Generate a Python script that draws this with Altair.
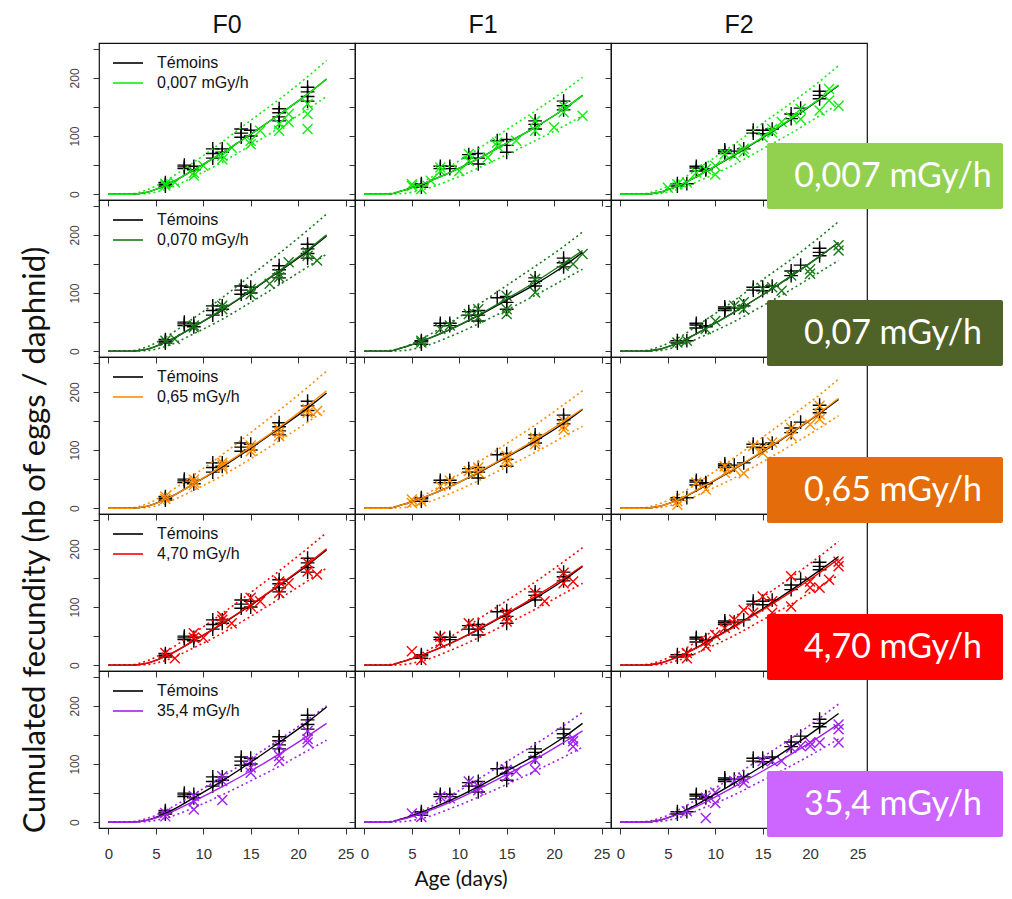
import altair as alt
import pandas as pd

# ---------------- data ----------------
GENERATIONS = ["F0", "F1", "F2"]
CURVE_X = [0, 2.5, 4, 6, 9, 12, 15, 18, 21, 23]
X_TICKS = [0, 5, 10, 15, 20, 25]
Y_TICKS = [0, 50, 100, 150, 200, 250]

DOSE_LEGEND = ["0,007 mGy/h", "0,070 mGy/h", "0,65 mGy/h", "4,70 mGy/h", "35,4 mGy/h"]
DOSE_BOX = ["0,007 mGy/h", "0,07 mGy/h", "0,65 mGy/h", "4,70 mGy/h", "35,4 mGy/h"]
DOSE_COLORS = ["#11EE11", "#1A7A1A", "#FF8C00", "#FF0000", "#A020F0"]
BOX_COLORS = ["#92D050", "#4F6228", "#E46C0A", "#FF0000", "#CC66FF"]

# control (Témoins) fitted curves, per generation
CTRL_FIT_F0 = [0, 0, 3, 15, 42, 71, 103, 137, 172, 198]
CTRL_FIT_F1 = [0, 0, 6, 17, 37, 61, 88, 115, 146, 170]
CTRL_FIT_F2 = [0, 0, 3, 14, 39, 67, 97, 129, 163, 187]

# control observations (+)
CTRL_DAY_F0 = [6, 6, 6, 8, 8, 8, 9, 9, 11, 11, 11, 12, 12, 14, 14, 14, 15, 15, 18, 18, 18, 18, 21, 21, 21, 21]
CTRL_VAL_F0 = [14, 17, 20, 44, 47, 50, 42, 48, 62, 70, 78, 72, 78, 98, 105, 112, 100, 110, 126, 133, 140, 147, 160, 168, 176, 184]
CTRL_DAY_F1 = [6, 6, 6, 8, 8, 9, 9, 11, 11, 12, 12, 12, 14, 15, 15, 15, 18, 18, 18, 21, 21, 21]
CTRL_VAL_F1 = [12, 16, 18, 44, 48, 44, 48, 62, 68, 52, 62, 70, 92, 72, 84, 94, 112, 120, 126, 145, 152, 160]
CTRL_DAY_F2 = [6, 6, 7, 8, 8, 8, 9, 9, 11, 11, 11, 12, 13, 14, 14, 15, 15, 16, 18, 18, 19, 21, 21, 21]
CTRL_VAL_F2 = [14, 18, 18, 40, 45, 48, 42, 44, 70, 73, 76, 74, 78, 105, 110, 104, 110, 112, 130, 138, 148, 164, 170, 177]

# treated fits (solid), lower / upper bounds (dotted): [F0, F1, F2]
FIT_0007 = [[0, 0, 3, 15, 42, 71, 103, 137, 172, 198], [0, 0, 6, 17, 37, 61, 88, 115, 146, 170], [0, 0, 3, 14, 39, 68, 98, 130, 164, 188]]
LO_0007 = [[0, 0, 1, 8, 30, 55, 84, 114, 146, 168], [0, 0, 1, 7, 24, 45, 68, 92, 117, 135], [0, 0, 1, 8, 28, 51, 78, 105, 135, 155]]
HI_0007 = [[0, 1, 7, 23, 55, 90, 127, 163, 202, 230], [0, 1, 6, 20, 48, 78, 111, 143, 177, 201], [0, 1, 7, 22, 53, 86, 122, 157, 194, 221]]

FIT_0070 = [[0, 0, 3, 15, 42, 72, 104, 138, 174, 200], [0, 0, 6, 17, 37, 62, 90, 119, 151, 173], [0, 0, 3, 14, 39, 67, 97, 129, 163, 187]]
LO_0070 = [[0, 0, 1, 8, 30, 55, 84, 114, 145, 167], [0, 0, 1, 7, 25, 47, 71, 96, 123, 141], [0, 0, 1, 8, 28, 51, 78, 106, 136, 156]]
HI_0070 = [[0, 1, 7, 24, 57, 92, 130, 168, 208, 236], [0, 1, 6, 21, 49, 80, 113, 146, 180, 205], [0, 1, 7, 22, 54, 87, 123, 158, 196, 223]]

FIT_065 = [[0, 0, 3, 15, 42, 73, 105, 139, 176, 202], [0, 0, 6, 17, 37, 62, 89, 118, 149, 171], [0, 0, 3, 14, 40, 68, 98, 130, 164, 189]]
LO_065 = [[0, 0, 1, 9, 31, 56, 85, 116, 148, 170], [0, 0, 1, 7, 25, 47, 71, 96, 123, 141], [0, 0, 1, 8, 29, 52, 80, 108, 138, 159]]
HI_065 = [[0, 1, 7, 24, 57, 92, 130, 168, 208, 236], [0, 1, 6, 20, 48, 79, 111, 143, 178, 202], [0, 1, 7, 22, 53, 87, 122, 158, 195, 222]]

FIT_470 = [[0, 0, 3, 15, 42, 72, 104, 138, 174, 200], [0, 0, 6, 17, 37, 62, 89, 118, 149, 171], [0, 0, 3, 14, 38, 66, 95, 126, 159, 183]]
LO_470 = [[0, 0, 1, 8, 30, 55, 84, 114, 145, 167], [0, 0, 1, 7, 25, 47, 71, 96, 123, 141], [0, 0, 1, 8, 28, 51, 78, 105, 135, 155]]
HI_470 = [[0, 1, 7, 23, 55, 89, 125, 162, 201, 228], [0, 1, 6, 20, 48, 79, 111, 143, 178, 202], [0, 1, 6, 21, 51, 83, 117, 151, 187, 213]]

FIT_354 = [[0, 0, 3, 13, 36, 61, 88, 117, 148, 170], [0, 0, 5, 15, 34, 57, 82, 108, 137, 157], [0, 0, 3, 13, 35, 61, 88, 117, 147, 169]]
LO_354 = [[0, 0, 1, 7, 25, 47, 71, 96, 123, 141], [0, 0, 1, 6, 23, 43, 65, 88, 112, 129], [0, 0, 1, 7, 26, 47, 72, 97, 124, 143]]
HI_354 = [[0, 1, 6, 20, 48, 78, 110, 142, 176, 200], [0, 1, 6, 19, 45, 74, 104, 134, 166, 189], [0, 1, 6, 20, 49, 79, 112, 144, 179, 203]]

# treated observations (x): [F0, F1, F2]
DAY_0007 = [[6, 6, 7, 9, 9, 10, 12, 12, 13, 15, 15, 16, 18, 18, 19, 19, 21, 21, 21],
            [5, 5, 6, 7, 8, 8, 10, 11, 11, 13, 14, 14, 16, 18, 18, 20, 21, 21, 23],
            [5, 6, 7, 8, 9, 10, 10, 11, 12, 13, 13, 15, 16, 16, 17, 18, 19, 19, 21, 22, 22, 23]]
VAL_0007 = [[15, 18, 20, 32, 37, 49, 60, 66, 80, 86, 92, 109, 109, 121, 124, 138, 112, 138, 155],
            [14, 17, 9, 23, 40, 46, 40, 57, 69, 63, 83, 89, 92, 109, 126, 115, 141, 152, 135],
            [11, 17, 20, 37, 43, 49, 34, 69, 66, 78, 72, 98, 112, 106, 124, 132, 147, 129, 144, 181, 161, 152]]

DAY_0070 = [[6, 7, 9, 9, 12, 12, 15, 15, 17, 18, 18, 19, 21, 21, 22],
            [6, 6, 8, 9, 11, 12, 12, 15, 15, 15, 18, 18, 21, 22, 23],
            [6, 7, 9, 10, 12, 13, 13, 15, 16, 17, 18, 20, 20, 23, 23]]
VAL_0070 = [[18, 21, 41, 44, 72, 78, 98, 107, 116, 127, 133, 153, 164, 170, 156],
            [18, 15, 38, 44, 64, 72, 58, 95, 72, 64, 124, 101, 147, 150, 167],
            [15, 18, 38, 52, 78, 84, 72, 107, 110, 104, 130, 141, 133, 182, 173]]

DAY_065 = [[6, 6, 9, 9, 9, 12, 12, 12, 15, 15, 15, 18, 18, 18, 21, 21, 22],
           [5, 5, 6, 8, 9, 11, 12, 12, 15, 15, 15, 18, 18, 18, 21, 21, 21],
           [6, 6, 8, 9, 11, 11, 12, 13, 14, 15, 15, 16, 18, 18, 20, 21, 21, 21]]
VAL_065 = [[16, 20, 40, 44, 49, 70, 74, 78, 98, 104, 108, 124, 130, 136, 164, 170, 167],
           [15, 9, 12, 38, 47, 64, 70, 62, 84, 90, 78, 121, 110, 115, 141, 150, 135],
           [12, 6, 44, 32, 72, 61, 67, 60, 107, 95, 104, 113, 138, 124, 144, 176, 161, 153]]

DAY_470 = [[6, 7, 9, 9, 10, 12, 12, 13, 15, 15, 16, 18, 18, 19, 21, 21, 22],
           [5, 6, 8, 8, 11, 12, 15, 15, 15, 18, 19, 21, 21, 22],
           [7, 7, 9, 9, 10, 11, 12, 12, 13, 14, 15, 16, 16, 18, 18, 20, 20, 21, 22, 23, 23]]
VAL_470 = [[21, 12, 55, 47, 47, 78, 84, 72, 116, 101, 110, 144, 124, 141, 176, 161, 156],
           [24, 9, 49, 38, 72, 64, 90, 75, 84, 124, 110, 159, 141, 144],
           [12, 21, 41, 32, 52, 64, 78, 70, 95, 90, 118, 90, 110, 153, 101, 144, 133, 133, 147, 170, 178]]

DAY_354 = [[6, 6, 9, 9, 9, 12, 12, 12, 15, 15, 15, 18, 18, 18, 21, 21, 21],
           [5, 6, 8, 9, 11, 12, 12, 15, 15, 16, 18, 18, 22, 22, 22],
           [7, 9, 9, 10, 10, 12, 13, 13, 15, 16, 17, 18, 19, 20, 20, 21, 23, 23, 23]]
VAL_354 = [[10, 16, 22, 36, 45, 38, 71, 79, 85, 94, 105, 105, 114, 131, 137, 143, 157],
           [15, 9, 44, 41, 70, 55, 62, 90, 78, 87, 107, 90, 139, 130, 144],
           [19, 7, 42, 51, 33, 71, 76, 68, 105, 105, 105, 128, 131, 137, 131, 137, 168, 160, 137]]

# ---------------- assembly ----------------
CTRL_FIT = [CTRL_FIT_F0, CTRL_FIT_F1, CTRL_FIT_F2]
CTRL_DAY = [CTRL_DAY_F0, CTRL_DAY_F1, CTRL_DAY_F2]
CTRL_VAL = [CTRL_VAL_F0, CTRL_VAL_F1, CTRL_VAL_F2]
FITS = [FIT_0007, FIT_0070, FIT_065, FIT_470, FIT_354]
LOS = [LO_0007, LO_0070, LO_065, LO_470, LO_354]
HIS = [HI_0007, HI_0070, HI_065, HI_470, HI_354]
DAYS = [DAY_0007, DAY_0070, DAY_065, DAY_470, DAY_354]
VALS = [VAL_0007, VAL_0070, VAL_065, VAL_470, VAL_354]

PW, PH = 256, 157
PLUS = "M-1,0H1M0,-1V1"
CROSS = "M-1,-1L1,1M1,-1L-1,1"
ARIAL = "Liberation Sans"
CALIBRI = "Lato"
BOX_RIGHT = 392   # relative to the F2 panel's left edge


def panel(r, c):
    color = DOSE_COLORS[r]
    xaxis = alt.Axis(values=X_TICKS, labels=(r == 4), grid=False, domain=False,
                     tickSize=6, tickColor="#333", labelFont=ARIAL, labelFontSize=15,
                     labelColor="#333", labelPadding=12)
    yaxis = alt.Axis(values=Y_TICKS, labels=(c == 0), grid=False, domain=False,
                     tickSize=6, tickColor="#333", labelFont=ARIAL, labelFontSize=12,
                     labelColor="#444", labelAngle=-90, labelAlign="center",
                     labelBaseline="bottom", labelPadding=12,
                     labelExpr="datum.value % 100 == 0 ? datum.label : ''")
    X = alt.X("age:Q", scale=alt.Scale(domain=[-1, 26], nice=False, zero=False), axis=xaxis, title=None)
    Y = alt.Y("fec:Q", scale=alt.Scale(domain=[-10, 260], nice=False, zero=False), axis=yaxis, title=None)

    ctrl_pts = pd.DataFrame({"age": CTRL_DAY[c], "fec": CTRL_VAL[c]})
    trt_pts = pd.DataFrame({"age": DAYS[r][c], "fec": VALS[r][c]})
    lo = pd.DataFrame({"age": CURVE_X, "fec": LOS[r][c]})
    hi = pd.DataFrame({"age": CURVE_X, "fec": HIS[r][c]})
    cfit = pd.DataFrame({"age": CURVE_X, "fec": CTRL_FIT[c]})
    tfit = pd.DataFrame({"age": CURVE_X, "fec": FITS[r][c]})

    layers = [
        alt.Chart(ctrl_pts).mark_point(shape=PLUS, size=190, filled=False, color="black",
                                       strokeWidth=1.4, opacity=1).encode(x=X, y=Y),
        alt.Chart(trt_pts).mark_point(shape=CROSS, size=100, filled=False, color=color,
                                      strokeWidth=1.4, opacity=1).encode(x=X, y=Y),
        alt.Chart(lo).mark_line(color=color, strokeWidth=1.6, strokeDash=[2, 3],
                                interpolate="monotone").encode(x=X, y=Y),
        alt.Chart(hi).mark_line(color=color, strokeWidth=1.6, strokeDash=[2, 3],
                                interpolate="monotone").encode(x=X, y=Y),
        alt.Chart(cfit).mark_line(color="black", strokeWidth=1.4,
                                  interpolate="monotone").encode(x=X, y=Y),
        alt.Chart(tfit).mark_line(color=color, strokeWidth=1.4,
                                  interpolate="monotone").encode(x=X, y=Y),
    ]

    if c == 0:
        leg_df = pd.DataFrame({"t": ["Témoins"]})
        leg_df2 = pd.DataFrame({"t": [DOSE_LEGEND[r]]})
        layers += [
            alt.Chart(leg_df).mark_rule(color="black", strokeWidth=1.6).encode(
                x=alt.value(14), x2=alt.value(44), y=alt.value(20)),
            alt.Chart(leg_df2).mark_rule(color=color, strokeWidth=1.6).encode(
                x=alt.value(14), x2=alt.value(44), y=alt.value(40)),
            alt.Chart(leg_df).mark_text(align="left", baseline="middle", font=ARIAL,
                                        fontSize=16, color="#111").encode(
                x=alt.value(58), y=alt.value(20), text="t:N"),
            alt.Chart(leg_df2).mark_text(align="left", baseline="middle", font=ARIAL,
                                         fontSize=16, color="#111").encode(
                x=alt.value(58), y=alt.value(40), text="t:N"),
        ]

    if r == 0:
        layers.append(
            alt.Chart(pd.DataFrame({"t": [GENERATIONS[c]]})).mark_text(
                align="center", baseline="alphabetic", font=ARIAL, fontSize=25,
                color="#111").encode(x=alt.value(PW / 2), y=alt.value(-10), text="t:N"))

    if r == 0 and c == 0:
        # pins the top-left corner of the page content
        layers.append(
            alt.Chart(pd.DataFrame({"t": [""]})).mark_rect(opacity=0).encode(
                x=alt.value(-90), x2=alt.value(-89), y=alt.value(-34), y2=alt.value(-33)))
        layers.append(
            alt.Chart(pd.DataFrame({"t": ["Cumulated fecundity (nb of eggs / daphnid)"]})).mark_text(
                align="center", baseline="middle", angle=270, font=CALIBRI, fontSize=31,
                color="#111").encode(x=alt.value(-63), y=alt.value(497), text="t:N"))

    if r == 4 and c == 1:
        layers.append(
            alt.Chart(pd.DataFrame({"t": ["Age (days)"]})).mark_text(
                align="center", baseline="middle", font=CALIBRI, fontSize=21,
                color="#111").encode(x=alt.value(106), y=alt.value(209), text="t:N"))

    if c == 2:
        boxes = []
        if r >= 1:
            boxes.append((r - 1, 100 - PH))
        if r == 4:
            boxes.append((4, 100))
        for (k, top) in boxes:
            bdf = pd.DataFrame({"t": [DOSE_BOX[k]]})
            layers.append(alt.Chart(bdf).mark_rect(color=BOX_COLORS[k], cornerRadius=2).encode(
                x=alt.value(156), x2=alt.value(BOX_RIGHT), y=alt.value(top), y2=alt.value(top + 66)))
            layers.append(alt.Chart(bdf).mark_text(
                align="center", baseline="middle", font=CALIBRI, fontSize=34,
                color="white").encode(x=alt.value(282), y=alt.value(top + 34), text="t:N"))

    return alt.layer(*layers).properties(width=PW, height=PH)


panels = [panel(r, c) for r in range(5) for c in range(3)]

chart = alt.concat(*panels, columns=3, spacing=0, bounds="flush").properties(
    padding=0, background="white"
).configure_view(stroke="#111", strokeWidth=1.2)

chart.save("out.html", embed_options={"renderer": "svg", "actions": False})
